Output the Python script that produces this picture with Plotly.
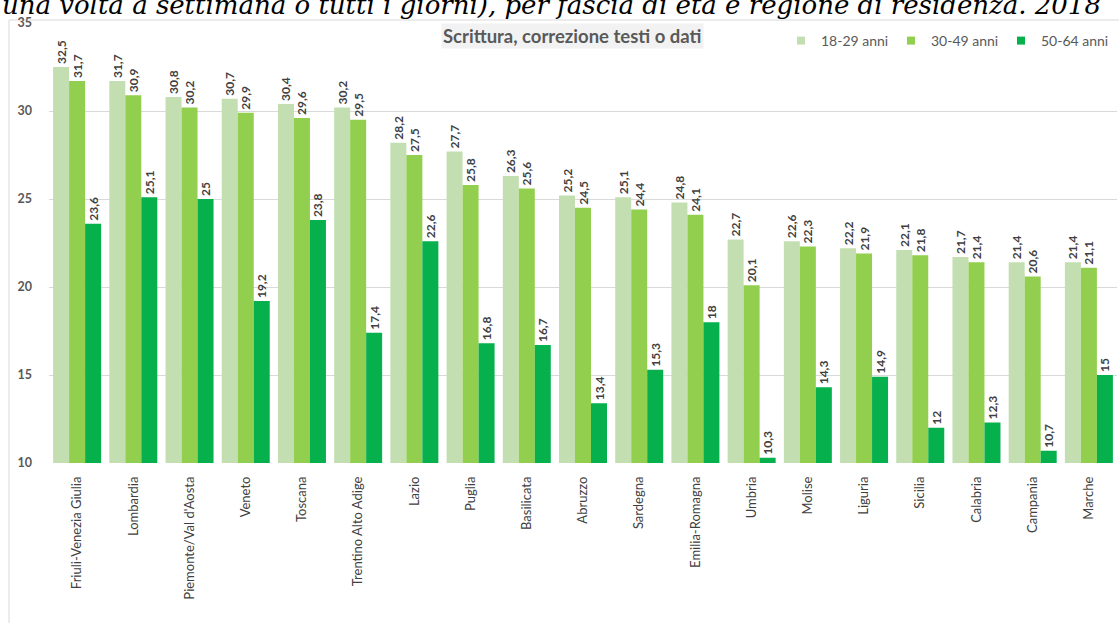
import plotly.graph_objects as go

regioni = [
    "Friuli-Venezia Giulia", "Lombardia", "Piemonte/Val d'Aosta", "Veneto", "Toscana",
    "Trentino Alto Adige", "Lazio", "Puglia", "Basilicata", "Abruzzo", "Sardegna",
    "Emilia-Romagna", "Umbria", "Molise", "Liguria", "Sicilia", "Calabria",
    "Campania", "Marche",
]
anni_18_29 = [32.5, 31.7, 30.8, 30.7, 30.4, 30.2, 28.2, 27.7, 26.3, 25.2, 25.1,
              24.8, 22.7, 22.6, 22.2, 22.1, 21.7, 21.4, 21.4]
anni_30_49 = [31.7, 30.9, 30.2, 29.9, 29.6, 29.5, 27.5, 25.8, 25.6, 24.5, 24.4,
              24.1, 20.1, 22.3, 21.9, 21.8, 21.4, 20.6, 21.1]
anni_50_64 = [23.6, 25.1, 25.0, 19.2, 23.8, 17.4, 22.6, 16.8, 16.7, 13.4, 15.3,
              18.0, 10.3, 14.3, 14.9, 12.0, 12.3, 10.7, 15.0]

serie = [
    ("18-29 anni", anni_18_29, "#c3dfb1"),
    ("30-49 anni", anni_30_49, "#92cf4e"),
    ("50-64 anni", anni_50_64, "#06b04c"),
]
y_ticks = [10, 15, 20, 25, 30, 35]
titolo = "una volta a settimana o tutti i giorni), per fascia di età e regione di residenza. 2018"
sottotitolo = "Scrittura, correzione testi o dati"


def etichetta(v):
    s = f"{v:g}"
    return s.replace(".", ",")


fig = go.Figure()
for nome, valori, colore in serie:
    fig.add_trace(go.Bar(
        x=regioni, y=valori, name=nome,
        marker=dict(color=colore, line=dict(width=0)),
        text=[etichetta(v) for v in valori],
        textposition="outside", textangle=-90,
        textfont=dict(family="Lato", size=12, color="#404040", weight="bold"),
        constraintext="none", cliponaxis=False,
        showlegend=False,
    ))
    # legend entry with a small square swatch
    fig.add_trace(go.Scatter(
        x=[None], y=[None], mode="markers", name=nome,
        marker=dict(symbol="square", size=8, color=colore),
        showlegend=True,
    ))

fig.update_layout(
    width=1119, height=623,
    margin=dict(l=49, r=2, t=23, b=160),
    paper_bgcolor="white", plot_bgcolor="white",
    barmode="group", bargap=0.146, bargroupgap=0,
    font=dict(family="Lato", color="#595959"),
    legend=dict(
        orientation="h", x=1.0 - 6 / 1068, xanchor="right", y=1.0 - 2 / 440,
        yanchor="top", yref="paper",
        font=dict(family="Lato", size=14, color="#595959"),
        bgcolor="rgba(0,0,0,0)", itemwidth=30, tracegroupgap=0,
        entrywidth=65, entrywidthmode="pixels",
    ),
    xaxis=dict(
        type="category", tickangle=-90, showgrid=False, showline=False,
        tickfont=dict(family="Lato", size=13, color="#404040"),
        ticks="", ticklabelstandoff=10,
    ),
    yaxis=dict(
        range=[10, 35], tickvals=y_ticks, showgrid=True, gridcolor="#d9d9d9",
        gridwidth=1, zeroline=False, showline=False, ticks="",
        tickfont=dict(family="Lato", size=12.5, color="#595959", weight="bold"),
        ticklabelstandoff=16,
    ),
    shapes=[
        dict(type="rect", xref="paper", yref="paper",
             x0=-40 / 1068, x1=1.05, y0=-0.5, y1=1 + 3 / 440,
             line=dict(color="#d9d9d9", width=1), layer="below"),
    ],
    annotations=[
        dict(text=sottotitolo, xref="paper", yref="paper",
             x=(572 - 49) / 1068, y=1 - 13 / 440, xanchor="center", yanchor="middle",
             showarrow=False, bgcolor="#f2f2f2", borderpad=1,
             font=dict(family="Lato", size=18.5, color="#595959", weight="bold")),
        dict(text=titolo, xref="paper", yref="paper",
             x=-49 / 1068, y=1 + 18 / 440, xanchor="left", yanchor="middle",
             showarrow=False,
             font=dict(family="DejaVu Serif", size=26, color="#000000", style="italic")),
    ],
)

fig.write_html("out.html")
